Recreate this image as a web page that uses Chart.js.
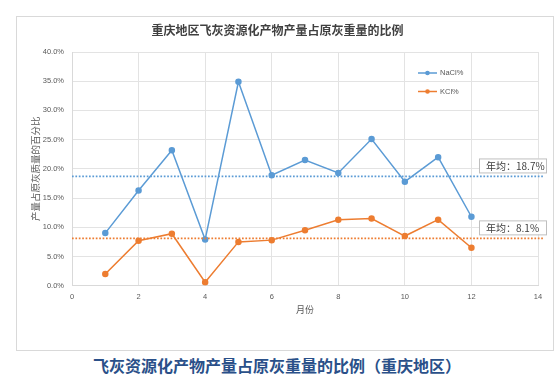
<!DOCTYPE html>
<html>
<head>
<meta charset="utf-8">
<script src="https://cdn.jsdelivr.net/npm/chart.js@4.4.0/dist/chart.umd.min.js"></script>
<style>
  body { margin: 0; background: #fff; width: 558px; height: 381px; position: relative; overflow: hidden; }
  #box { position: absolute; left: 16px; top: 16px; width: 536px; height: 333px; border: 1px solid #d9d9d9; }
  #caption { position: absolute; left: 93px; top: 353px; line-height: 20px; white-space: nowrap;
             font: bold 16px "Noto Sans CJK SC"; color: #2a5089; }
</style>
</head>
<body>
<div id="box"><canvas id="chart" width="536" height="333"></canvas></div>
<div id="caption">飞灰资源化产物产量占原灰重量的比例（重庆地区）</div>
<script>
// data
const months = [1, 2, 3, 4, 5, 6, 7, 8, 9, 10, 11, 12];
const naclPct = [9.0, 16.3, 23.2, 7.9, 34.9, 18.9, 21.5, 19.3, 25.1, 17.8, 22.0, 11.8];
const kclPct = [2.0, 7.7, 8.9, 0.6, 7.5, 7.8, 9.5, 11.3, 11.5, 8.5, 11.3, 6.5];
const seriesNames = ["NaCl%", "KCl%"];
const seriesColors = ["#5b9bd5", "#ed7d31"];
const yearAvg = [18.7, 8.1];
const avgLabels = ["年均：18.7%", "年均：8.1%"];

const tickFont = { family: "Liberation Sans", size: 7.5 };
const gray = "#595959";

function toPoints(vals) {
  return months.map((m, i) => ({ x: m, y: vals[i] }));
}

// legend drawn inside the plot, stacked
const innerLegend = {
  id: "innerLegend",
  afterDatasetsDraw(chart) {
    const { ctx, chartArea } = chart;
    const x0 = chartArea.right - 120;
    ctx.save();
    ctx.font = "7.5px 'Liberation Sans'";
    ctx.textBaseline = "middle";
    seriesNames.forEach((name, i) => {
      const y = chartArea.top + 21 + i * 18.5;
      ctx.strokeStyle = seriesColors[i];
      ctx.lineWidth = 1.5;
      ctx.beginPath();
      ctx.moveTo(x0, y);
      ctx.lineTo(x0 + 19, y);
      ctx.stroke();
      ctx.fillStyle = seriesColors[i];
      ctx.beginPath();
      ctx.arc(x0 + 9.5, y, 2.3, 0, Math.PI * 2);
      ctx.fill();
      ctx.fillStyle = gray;
      ctx.fillText(name, x0 + 22, y);
    });
    ctx.restore();
  }
};

// yearly average dotted lines with label boxes
const avgLines = {
  id: "avgLines",
  afterDatasetsDraw(chart) {
    const { ctx, chartArea, scales } = chart;
    ctx.save();
    yearAvg.forEach((v, i) => {
      const y = scales.y.getPixelForValue(v);
      ctx.strokeStyle = seriesColors[i];
      ctx.lineWidth = 1.8;
      ctx.setLineDash([1.7, 1.7]);
      ctx.beginPath();
      ctx.moveTo(chartArea.left, y);
      ctx.lineTo(chartArea.right + 6, y);
      ctx.stroke();
      ctx.setLineDash([]);

      const bx = chartArea.right - 59, bw = 67, bh = 14;
      const by = y - 4 - bh;
      ctx.fillStyle = "#fff";
      ctx.fillRect(bx, by, bw, bh);
      ctx.strokeStyle = "#bfbfbf";
      ctx.lineWidth = 1;
      ctx.strokeRect(bx + 0.5, by + 0.5, bw, bh);
      ctx.fillStyle = "#404040";
      ctx.font = "10px 'Noto Sans CJK SC'";
      ctx.textBaseline = "middle";
      ctx.fillText(avgLabels[i], bx + 7, by + bh / 2 + 1);
    });
    ctx.restore();
  }
};

new Chart(document.getElementById("chart").getContext("2d"), {
  type: "line",
  data: {
    datasets: [
      {
        label: seriesNames[0],
        data: toPoints(naclPct),
        borderColor: seriesColors[0],
        backgroundColor: seriesColors[0],
        borderWidth: 1.5,
        pointRadius: 2.5,
        tension: 0
      },
      {
        label: seriesNames[1],
        data: toPoints(kclPct),
        borderColor: seriesColors[1],
        backgroundColor: seriesColors[1],
        borderWidth: 1.5,
        pointRadius: 2.5,
        tension: 0
      }
    ]
  },
  options: {
    responsive: false,
    animation: false,
    layout: { padding: { left: 0, right: 15, top: 0, bottom: 0 } },
    plugins: {
      legend: { display: false },
      tooltip: { enabled: false },
      title: {
        display: true,
        text: "重庆地区飞灰资源化产物产量占原灰重量的比例",
        color: "#404040",
        font: { family: "Noto Sans CJK SC", size: 12, weight: "bold" },
        padding: { top: 5.8, bottom: 14.8 }
      }
    },
    scales: {
      x: {
        type: "linear",
        min: 0,
        max: 14,
        ticks: { stepSize: 2, color: gray, font: tickFont, padding: 7 },
        grid: { color: "#e3e3e3", drawTicks: false },
        border: { color: "#d9d9d9" },
        title: {
          display: true,
          text: "月份",
          color: gray,
          font: { family: "Noto Sans CJK SC", size: 9 },
          padding: { top: 0, bottom: 34.6 }
        },
        afterFit(scale) { scale.height = 64.3; }
      },
      y: {
        min: 0,
        max: 40,
        ticks: {
          stepSize: 5,
          color: gray,
          font: tickFont,
          padding: 8,
          callback: (v) => v.toFixed(1) + "%"
        },
        grid: { color: "#e3e3e3", drawTicks: false },
        border: { color: "#d9d9d9" },
        title: {
          display: true,
          text: "产量占原灰质量的百分比",
          color: gray,
          font: { family: "Noto Sans CJK SC", size: 9.5 },
          padding: { top: 12.3, bottom: 0 }
        },
        afterFit(scale) { scale.width = 55; }
      }
    }
  },
  plugins: [avgLines, innerLegend]
});
</script>
</body>
</html>
